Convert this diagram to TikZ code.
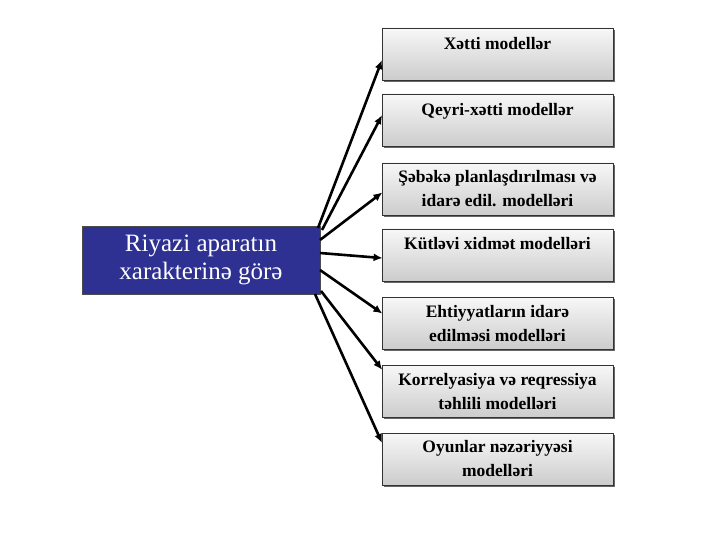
\documentclass[tikz,border=0pt]{standalone}
\usepackage{fontspec}
\setmainfont{Liberation Serif}
\usetikzlibrary{arrows.meta,shadows}
\definecolor{navy}{HTML}{2E3192}
\begin{document}
\begin{tikzpicture}[x=1pt,y=-1pt,
  rbox/.style={draw=black!80,line width=0.8pt,minimum width=231pt,minimum height=52pt,inner sep=0pt,
    top color=gray!6,bottom color=gray!40,
    drop shadow={shadow xshift=2pt,shadow yshift=-2pt,fill=black!60,opacity=1}},
  rtext/.style={anchor=north,align=center,font=\fontsize{17.5}{24}\selectfont\bfseries,inner sep=0pt},
  lbox/.style={draw=black!70,line width=0.8pt,fill=navy,minimum width=238pt,minimum height=68pt,
    text=white,align=center,font=\fontsize{25}{28}\selectfont,inner sep=0pt},
  conn/.style={line width=2.6pt,-{Latex[length=9pt,width=8pt]},shorten >=-1pt}
]
\useasboundingbox (0,0) rectangle (720,540);
\node[lbox] (L) at (201,260) {Riyazi aparatın\\xarakterinə görə};
\node[rbox] (b1) at (497.5,54) {};
\node[rbox] (b2) at (497.5,120) {};
\node[rbox] (b3) at (497.5,189) {};
\node[rbox] (b4) at (497.5,255) {};
\node[rbox] (b5) at (497.5,323) {};
\node[rbox] (b6) at (497.5,391) {};
\node[rbox] (b7) at (497.5,459) {};
\node[rtext] (t1) at ([yshift=-10pt]b1.north) {Xətti modellər};
\node[rtext] (t2) at ([yshift=-10pt]b2.north) {Qeyri-xətti modellər};
\node[rtext] (t3) at ([yshift=-8pt]b3.north) {Şəbəkə planlaşdırılması və\\idarə edil. modelləri};
\node[rtext] (t4) at ([yshift=-9pt]b4.north) {Kütləvi xidmət modelləri};
\node[rtext] (t5) at ([yshift=-9pt]b5.north) {Ehtiyyatların idarə\\edilməsi modelləri};
\node[rtext] (t6) at ([yshift=-9pt]b6.north) {Korrelyasiya və reqressiya\\təhlili modelləri};
\node[rtext] (t7) at ([yshift=-8pt]b7.north) {Oyunlar nəzəriyyəsi\\modelləri};
\coordinate (s1) at (318,228);
\coordinate (s2) at (322,230);
\coordinate (s3) at (320,240);
\coordinate (s4) at (320,253);
\coordinate (s5) at (320,270);
\coordinate (s6) at (321,291);
\coordinate (s7) at (315,294);
\coordinate (e1) at (b1.west |- 0,61);
\coordinate (e2) at (b2.west |- 0,116);
\coordinate (e3) at (b3.west |- 0,193);
\coordinate (e4) at (b4.west |- 0,258);
\coordinate (e5) at (b5.west |- 0,313);
\coordinate (e6) at (b6.west |- 0,369);
\coordinate (e7) at (b7.west |- 0,442);
\foreach \i in {1,...,7} \draw[conn] (s\i) -- (e\i);
\end{tikzpicture}
\end{document}
